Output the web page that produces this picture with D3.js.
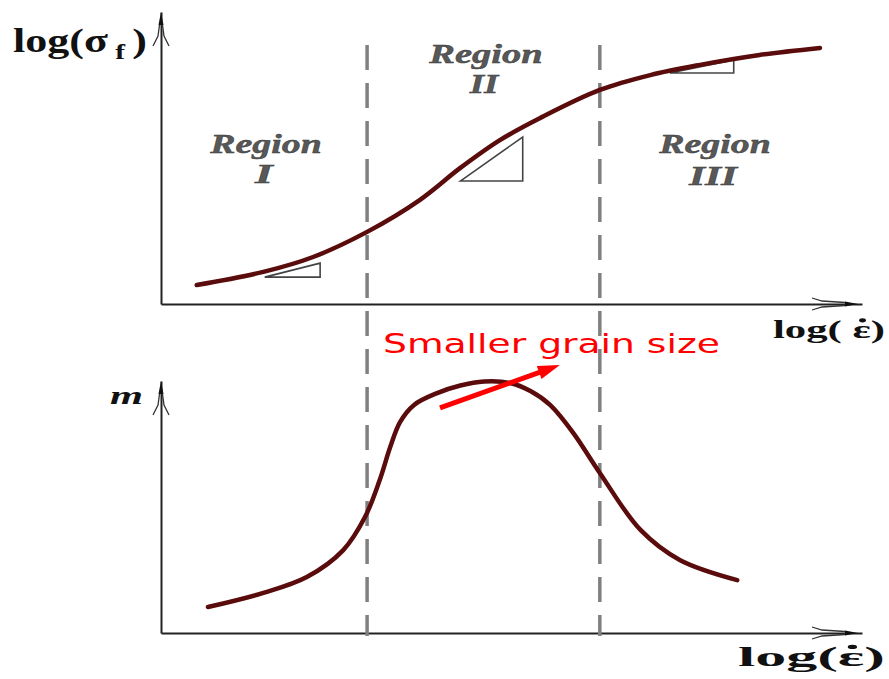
<!DOCTYPE html>
<html>
<head>
<meta charset="utf-8">
<script src="https://cdn.jsdelivr.net/npm/d3@7"></script>
<style>
  body { margin: 0; background: #fff; }
  svg { display: block; }
</style>
</head>
<body>
<svg id="chart" width="889" height="679"></svg>
<script>
// data (arbitrary log units)
var stressX = [0.51, 1.46, 2.17, 2.94, 3.69, 4.27, 4.84, 5.41, 6.26, 6.98, 7.69, 8.54, 9.40];
var stressY = [0.65, 1.10, 1.61, 2.47, 3.56, 4.66, 5.62, 6.37, 7.33, 7.84, 8.19, 8.53, 8.77];

var mX = [0.67, 1.46, 2.08, 2.60, 2.91, 3.12, 3.27, 3.41, 3.61, 3.94, 4.27, 4.61, 4.98, 5.27, 5.55, 5.88, 6.26, 6.84, 7.40, 8.22];
var mY = [1.03, 1.59, 2.22, 3.29, 4.60, 6.07, 7.38, 8.37, 9.05, 9.52, 9.82, 9.98, 9.92, 9.60, 9.05, 7.94, 6.35, 4.09, 2.90, 2.10];

// region boundaries on the strain-rate axis
var regionBounds = [2.94, 6.26];
var regionNames = ["Region", "Region", "Region"];
var regionNums = ["I", "II", "III"];

// slope triangles [x0, x1, yLow, yHigh]
var slopeTris = [
    [1.48, 2.27, 0.92, 1.40],
    [4.27, 5.16, 4.21, 5.72],
    [7.26, 8.17, 7.91, 8.36]
];

var svg = d3.select("#chart");

var serif = "'Liberation Serif', 'Times New Roman', serif";
var curveColor = "#5a0c0c";

// scales
var x = d3.scaleLinear().domain([0, 10]).range([161, 862]);
var yTop = d3.scaleLinear().domain([0, 10]).range([304, 12]);
var yBot = d3.scaleLinear().domain([0, 10]).range([633, 381]);

// stretch a text horizontally so it spans the given width
function fitText(t, width){
    var w = t.node().getBBox().width;
    var sx = width / w;
    var tx = +t.attr("data-x"), ty = +t.attr("data-y");
    t.attr("x", 0).attr("y", 0)
        .attr("transform", "translate(" + tx + "," + ty + ") scale(" + sx + ",1)");
    return t;
}

// dot over the epsilon (strain rate)
function dotOver(t, idx, size){
    var e = t.node().getExtentOfChar(idx);
    svg.append("circle")
        .attr("transform", t.attr("transform"))
        .attr("cx", e.x + e.width * 0.55)
        .attr("cy", -size * 0.68)
        .attr("r", 2.1)
        .attr("fill", "#111");
}

// axis arrow head, tip at (0,0) pointing to +x
function arrowHead(g, tx, ty, angle, len, spread){
    var a = g.append("g")
        .attr("transform", "translate(" + tx + "," + ty + ") rotate(" + angle + ")");
    a.append("path")
        .attr("d", "M0,0 L-13,-2.5 L-13,2.5 Z")
        .attr("fill", "#111");
    a.append("path")
        .attr("d", "M" + (-len) + "," + (-spread) + " L" + (-len + 10) + ",-3 L-13,-1.5")
        .attr("fill", "none").attr("stroke", "#333").attr("stroke-width", 1.3);
    a.append("path")
        .attr("d", "M" + (-len) + "," + spread + " L" + (-len + 10) + ",3 L-13,1.5")
        .attr("fill", "none").attr("stroke", "#333").attr("stroke-width", 1.3);
}

function drawAxes(yScale){
    var g = svg.append("g").attr("class", "axes");
    g.append("g")
        .attr("transform", "translate(0," + yScale(0) + ")")
        .call(d3.axisBottom(x).tickValues([]).tickSizeOuter(0));
    g.append("g")
        .attr("transform", "translate(" + x(0) + ",0)")
        .call(d3.axisLeft(yScale).tickValues([]).tickSizeOuter(0));
    g.selectAll(".domain").attr("stroke", "#222").attr("stroke-width", 2);
    arrowHead(g, x.range()[1] - 4, yScale(0), 0, 46, 6);
    arrowHead(g, x(0), yScale.range()[1], -90, 34, 8);
}

drawAxes(yTop);
drawAxes(yBot);

// dashed region boundaries
svg.append("g").selectAll("line")
    .data(regionBounds)
    .enter().append("line")
    .attr("x1", function(d){ return x(d); })
    .attr("x2", function(d){ return x(d); })
    .attr("y1", 45)
    .attr("y2", 636)
    .attr("stroke", "#808080")
    .attr("stroke-width", 3.5)
    .attr("stroke-dasharray", "25,13");

// slope triangles
svg.append("g").selectAll("path")
    .data(slopeTris)
    .enter().append("path")
    .attr("d", function(d){
        return "M" + x(d[0]) + "," + yTop(d[2]) +
            " L" + x(d[1]) + "," + yTop(d[3]) +
            " L" + x(d[1]) + "," + yTop(d[2]) + " Z";
    })
    .attr("fill", "none")
    .attr("stroke", "#444")
    .attr("stroke-width", 1.6);

// curves
var lineTop = d3.line()
    .x(function(d){ return x(d[0]); })
    .y(function(d){ return yTop(d[1]); })
    .curve(d3.curveCatmullRom);
var lineBot = d3.line()
    .x(function(d){ return x(d[0]); })
    .y(function(d){ return yBot(d[1]); })
    .curve(d3.curveCatmullRom);

svg.append("path")
    .datum(d3.zip(stressX, stressY))
    .attr("d", lineTop)
    .attr("fill", "none")
    .attr("stroke", curveColor)
    .attr("stroke-width", 4.5)
    .attr("stroke-linecap", "round");

svg.append("path")
    .datum(d3.zip(mX, mY))
    .attr("d", lineBot)
    .attr("fill", "none")
    .attr("stroke", curveColor)
    .attr("stroke-width", 4.5)
    .attr("stroke-linecap", "round");

// region labels
var regionCenters = [266, 486, 715];
var regionWord = [[113, 153], [115, 63], [113, 153]];
var regionNum = [[22, 183], [32, 93], [52, 185]];
regionNames.forEach(function(name, i){
    var t = svg.append("text")
        .attr("data-x", regionCenters[i]).attr("data-y", regionWord[i][1])
        .attr("text-anchor", "middle")
        .style("font-family", serif).style("font-weight", "bold").style("font-style", "italic")
        .style("font-size", "27px").attr("fill", "#585858")
        .attr("stroke", "#333").attr("stroke-width", 0.4)
        .text(name);
    fitText(t, regionWord[i][0]);
    var n = svg.append("text")
        .attr("data-x", regionCenters[i] - 2).attr("data-y", regionNum[i][1])
        .attr("text-anchor", "middle")
        .style("font-family", serif).style("font-weight", "bold").style("font-style", "italic")
        .style("font-size", "27px").attr("fill", "#585858")
        .attr("stroke", "#333").attr("stroke-width", 0.4)
        .text(regionNums[i]);
    fitText(n, regionNum[i][0]);
});

// axis titles
var yTitle = svg.append("text")
    .attr("data-x", 13).attr("data-y", 52)
    .style("font-family", serif).style("font-weight", "bold").style("font-size", "33px")
    .attr("fill", "#111");
yTitle.append("tspan").text("log(σ");
yTitle.append("tspan").attr("dy", 7).style("font-size", "22px").text(" f ");
yTitle.append("tspan").attr("dy", -7).text(")");
fitText(yTitle, 134);

var xTitleTop = svg.append("text")
    .attr("data-x", 773).attr("data-y", 338)
    .style("font-family", serif).style("font-weight", "bold").style("font-size", "26px")
    .attr("fill", "#111")
    .text("log( ε)");
fitText(xTitleTop, 112);
dotOver(xTitleTop, 5, 26);

var xTitleBot = svg.append("text")
    .attr("data-x", 738).attr("data-y", 666)
    .style("font-family", serif).style("font-weight", "bold").style("font-size", "28px")
    .attr("fill", "#111")
    .text("log(ε)");
fitText(xTitleBot, 147);
dotOver(xTitleBot, 4, 28);

var mTitle = svg.append("text")
    .attr("data-x", 110).attr("data-y", 404)
    .style("font-family", serif).style("font-weight", "bold").style("font-style", "italic")
    .style("font-size", "25px").attr("fill", "#111")
    .text("m");
fitText(mTitle, 33);

// grain size annotation
var note = svg.append("text")
    .attr("data-x", 383).attr("data-y", 353)
    .style("font-family", "'DejaVu Sans', Verdana, sans-serif").style("font-size", "27px")
    .attr("fill", "#ff0000")
    .text("Smaller grain size");
fitText(note, 337);

var arrowFrom = [3.98, 8.93], arrowTo = [5.69, 10.63];
var ax0 = x(arrowFrom[0]), ay0 = yBot(arrowFrom[1]);
var ax1 = x(arrowTo[0]), ay1 = yBot(arrowTo[1]);
var ang = Math.atan2(ay1 - ay0, ax1 - ax0) * 180 / Math.PI;
var alen = Math.hypot(ax1 - ax0, ay1 - ay0);
var ra = svg.append("g")
    .attr("transform", "translate(" + ax0 + "," + ay0 + ") rotate(" + ang + ")");
ra.append("line")
    .attr("x1", 0).attr("y1", 0).attr("x2", alen - 18).attr("y2", 0)
    .attr("stroke", "#ff0000").attr("stroke-width", 5);
ra.append("path")
    .attr("d", "M" + alen + ",0 L" + (alen - 22) + ",-7 L" + (alen - 22) + ",7 Z")
    .attr("fill", "#ff0000");
</script>
</body>
</html>
